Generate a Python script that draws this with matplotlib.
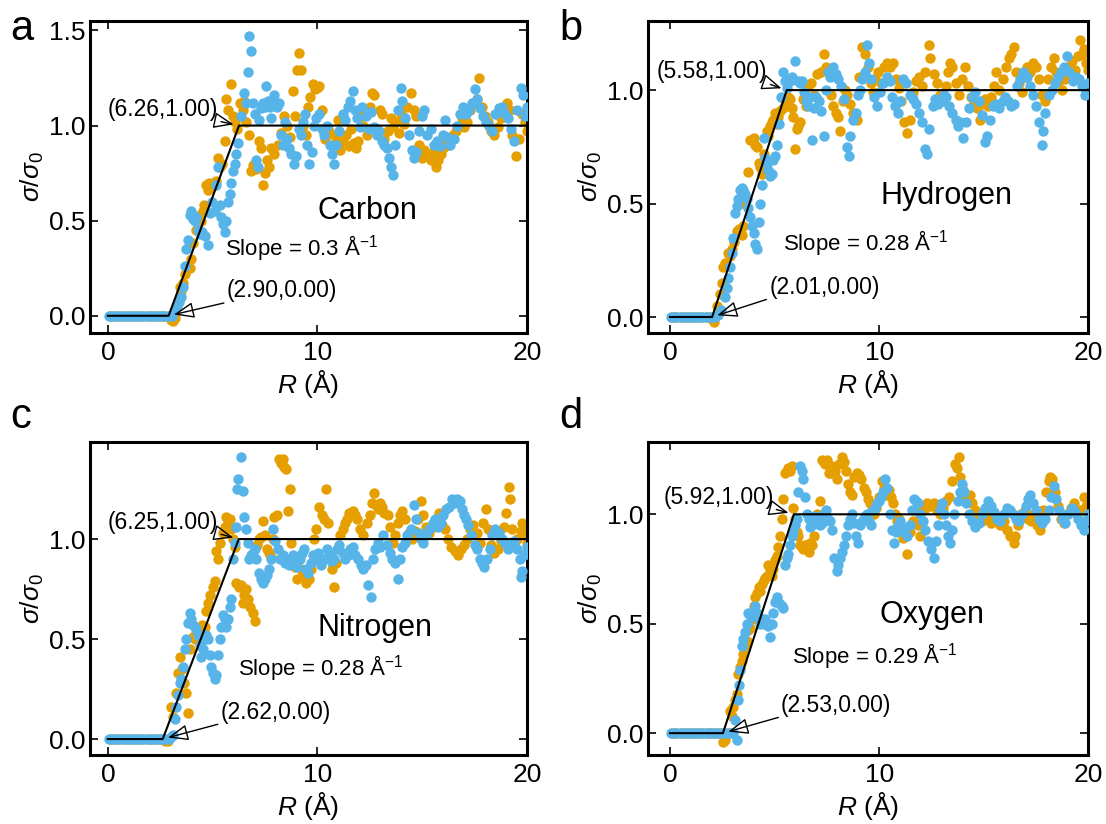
import numpy as np
import matplotlib
matplotlib.use('Agg')
import matplotlib.pyplot as plt

plt.rcParams['font.family'] = ['Liberation Sans', 'DejaVu Sans']
plt.rcParams['mathtext.fontset'] = 'custom'
plt.rcParams['mathtext.rm'] = 'Liberation Sans'
plt.rcParams['mathtext.it'] = 'Liberation Sans:italic'
plt.rcParams['mathtext.bf'] = 'Liberation Sans:bold'

naranja = '#E69F00'
azul = '#56B4E9'

# puntos (R, sigma/sigma0) de cada elemento, dos conjuntos por panel
carbon_naranja = [
    (0.1, 0), (0.3, 0), (0.5, 0), (0.7, 0), (0.9, 0), (1.1, 0), (1.3, 0), (1.5, 0), (1.7, 0), (1.9, 0),
    (2.1, 0), (2.3, 0), (2.5, 0), (2.7, 0), (2.9, 0), (3.0, -0.02), (3.1, -0.03), (3.2, -0.01),
    (3.35, 0.08), (3.43, 0.15), (3.5, 0.13), (3.59, 0.17), (3.7, 0.22), (3.8, 0.26), (3.9, 0.25), (3.95, 0.3),
    (4.05, 0.38), (4.2, 0.45), (4.38, 0.53), (4.45, 0.5), (4.54, 0.55), (4.6, 0.58), (4.7, 0.69), (4.78, 0.66),
    (4.85, 0.7), (5.0, 0.68), (5.17, 0.71), (5.25, 0.83), (5.35, 0.78), (5.45, 0.8), (5.57, 0.92), (5.65, 1.14),
    (5.75, 1.08), (5.9, 1.22), (5.95, 1.05), (6.05, 1.02), (6.15, 0.98), (6.3, 1.12), (6.44, 1.08), (6.52, 1.13),
    (6.6, 1.02), (6.76, 0.95), (6.84, 0.76), (6.95, 0.79), (7.08, 0.77), (7.2, 0.92), (7.3, 0.88), (7.4, 0.69),
    (7.48, 0.75), (7.6, 0.82), (7.71, 0.78), (7.8, 0.88), (7.95, 0.85), (8.1, 0.9), (8.25, 0.96), (8.4, 1.05),
    (8.55, 1.0), (8.7, 0.94), (8.83, 1.18), (8.95, 1.05), (9.05, 1.29), (9.14, 1.38), (9.22, 1.29), (9.3, 1.0),
    (9.45, 0.95), (9.55, 1.1), (9.65, 1.15), (9.78, 1.22), (9.9, 1.19), (10.0, 1.2), (10.1, 1.21), (10.2, 1.08),
    (10.35, 0.93), (10.5, 0.98), (10.6, 0.96), (10.75, 0.9), (10.9, 0.94), (11.0, 1.03), (11.1, 0.87), (11.2, 0.92),
    (11.35, 0.95), (11.5, 0.89), (11.6, 0.98), (11.75, 0.91), (11.84, 0.88), (11.95, 0.92), (12.1, 1.05), (12.2, 1.0),
    (12.35, 0.95), (12.5, 1.1), (12.6, 1.17), (12.7, 1.16), (12.85, 0.98), (13.0, 1.08), (13.1, 1.06), (13.2, 0.93),
    (13.35, 0.97), (13.5, 1.04), (13.6, 0.99), (13.75, 1.02), (13.9, 0.96), (14.0, 1.06), (14.15, 1.01), (14.3, 1.1),
    (14.46, 1.17), (14.6, 1.08), (14.7, 1.05), (14.85, 0.9), (15.0, 0.83), (15.1, 0.87), (15.25, 0.85), (15.4, 0.82),
    (15.5, 0.86), (15.65, 0.78), (15.75, 0.82), (15.9, 0.85), (16.0, 0.88), (16.15, 0.92), (16.3, 0.9), (16.45, 0.95),
    (16.6, 0.97), (16.75, 1.0), (16.9, 1.04), (17.0, 0.99), (17.15, 1.02), (17.3, 1.08), (17.45, 1.12), (17.6, 1.14),
    (17.7, 1.25), (17.85, 1.1), (18.0, 1.05), (18.15, 1.02), (18.3, 0.97), (18.45, 0.95), (18.6, 0.99), (18.75, 1.04),
    (18.9, 1.06), (19.05, 1.12), (19.2, 1.08), (19.3, 0.95), (19.46, 0.84), (19.6, 0.93), (19.75, 1.06), (19.9, 1.02),
    (20.0, 0.97)]
carbon_azul = [
    (0.05, 0), (0.2, 0), (0.35, 0), (0.5, 0), (0.65, 0), (0.8, 0), (0.95, 0), (1.1, 0), (1.25, 0), (1.4, 0),
    (1.55, 0), (1.7, 0), (1.85, 0), (2.0, 0), (2.15, 0), (2.3, 0), (2.45, 0), (2.6, 0), (2.75, 0), (2.9, 0),
    (3.05, 0), (3.2, 0.03), (3.3, 0.05), (3.4, 0.07), (3.51, 0.1), (3.6, 0.15), (3.67, 0.26), (3.75, 0.35),
    (3.83, 0.4), (3.9, 0.53), (3.97, 0.55), (4.05, 0.51), (4.15, 0.5), (4.22, 0.52), (4.3, 0.45), (4.38, 0.43),
    (4.5, 0.44), (4.62, 0.42), (4.78, 0.37), (4.86, 0.54), (4.95, 0.6), (5.1, 0.55), (5.17, 0.69), (5.25, 0.78),
    (5.33, 0.58), (5.41, 0.52), (5.49, 0.48), (5.57, 0.44), (5.65, 0.5), (5.75, 0.6), (5.81, 0.64), (5.89, 0.7),
    (5.97, 0.76), (6.05, 0.8), (6.13, 0.85), (6.21, 0.91), (6.37, 1.05), (6.52, 1.17), (6.6, 1.12), (6.68, 1.28),
    (6.76, 1.47), (6.84, 1.39), (6.92, 1.12), (7.0, 1.06), (7.08, 0.82), (7.15, 0.78), (7.22, 1.03), (7.3, 1.09),
    (7.4, 1.12), (7.48, 1.1), (7.56, 1.21), (7.63, 1.13), (7.72, 1.1), (7.8, 1.04), (7.88, 1.14), (7.95, 1.16),
    (8.05, 1.1), (8.15, 1.12), (8.25, 0.95), (8.35, 0.9), (8.45, 1.02), (8.55, 0.93), (8.65, 0.88), (8.75, 0.85),
    (8.9, 0.8), (9.0, 0.84), (9.1, 0.98), (9.2, 0.95), (9.3, 1.02), (9.4, 1.06), (9.5, 0.9), (9.62, 0.8),
    (9.72, 0.86), (9.85, 1.0), (9.95, 1.04), (10.1, 1.06), (10.2, 0.98), (10.3, 0.95), (10.45, 1.0), (10.6, 0.9),
    (10.7, 0.85), (10.8, 0.8), (10.9, 0.9), (11.05, 0.97), (11.2, 1.06), (11.3, 1.03), (11.45, 1.1), (11.55, 1.13),
    (11.68, 1.18), (11.8, 1.08), (11.9, 1.04), (12.05, 0.99), (12.15, 1.1), (12.3, 1.05), (12.45, 0.98), (12.55, 1.07),
    (12.7, 0.99), (12.85, 0.95), (12.95, 0.97), (13.1, 0.92), (13.2, 0.9), (13.3, 0.88), (13.43, 0.83), (13.5, 0.78),
    (13.6, 0.74), (13.72, 0.9), (13.85, 1.08), (13.98, 1.2), (14.05, 1.13), (14.2, 1.04), (14.35, 0.95), (14.5, 0.87),
    (14.6, 0.83), (14.7, 0.86), (14.85, 0.97), (15.0, 1.05), (15.1, 1.08), (15.25, 0.95), (15.4, 0.98), (15.55, 0.9),
    (15.7, 0.92), (15.85, 0.89), (16.0, 0.95), (16.1, 1.03), (16.2, 0.94), (16.35, 0.9), (16.5, 0.93), (16.65, 1.0),
    (16.8, 1.06), (16.95, 1.1), (17.1, 1.06), (17.25, 1.08), (17.4, 1.12), (17.5, 1.19), (17.6, 1.14), (17.75, 1.09),
    (17.9, 1.05), (18.05, 1.02), (18.2, 1.0), (18.35, 0.97), (18.5, 1.06), (18.65, 1.09), (18.8, 1.1), (18.95, 1.06),
    (19.1, 1.04), (19.25, 0.98), (19.4, 0.92), (19.55, 1.08), (19.7, 1.2), (19.8, 1.16), (19.9, 1.05), (20.0, 1.1)]

hidrogeno_naranja = [
    (0.1, 0), (0.3, 0), (0.5, 0), (0.7, 0), (0.9, 0), (1.1, 0), (1.3, 0), (1.5, 0), (1.7, 0), (1.9, 0),
    (2.0, -0.01), (2.1, -0.02), (2.25, 0.05), (2.39, 0.1), (2.47, 0.15), (2.55, 0.22), (2.65, 0.24), (2.79, 0.28),
    (2.87, 0.27), (2.95, 0.3), (3.05, 0.33), (3.19, 0.38), (3.3, 0.39), (3.42, 0.36), (3.51, 0.4), (3.6, 0.5),
    (3.75, 0.64), (3.83, 0.78), (3.99, 0.79), (4.07, 0.76), (4.15, 0.75), (4.23, 0.68), (4.3, 0.66), (4.39, 0.63),
    (4.5, 0.72), (4.63, 0.82), (4.7, 0.8), (4.78, 0.84), (4.86, 0.86), (4.94, 0.87), (5.02, 0.9), (5.1, 0.85),
    (5.18, 0.88), (5.26, 0.91), (5.4, 0.92), (5.5, 0.95), (5.66, 0.97), (5.74, 0.96), (5.82, 0.92), (5.9, 0.88),
    (5.98, 0.74), (6.06, 0.83), (6.14, 0.84), (6.22, 0.86), (6.35, 0.96), (6.5, 0.93), (6.6, 1.02), (6.75, 1.03),
    (6.9, 0.98), (7.05, 1.07), (7.2, 1.08), (7.34, 1.16), (7.45, 1.1), (7.55, 1.09), (7.7, 0.98), (7.8, 0.93),
    (7.95, 0.9), (8.05, 0.88), (8.13, 0.82), (8.25, 0.95), (8.35, 1.0), (8.45, 0.98), (8.6, 0.94), (8.75, 0.9),
    (8.93, 0.87), (9.05, 1.06), (9.17, 1.19), (9.3, 1.16), (9.45, 1.1), (9.6, 1.03), (9.7, 0.99), (9.8, 1.05),
    (9.95, 1.08), (10.1, 1.03), (10.25, 1.1), (10.37, 1.12), (10.5, 1.1), (10.65, 1.12), (10.8, 1.05), (10.95, 1.01),
    (11.05, 0.95), (11.2, 0.86), (11.32, 0.81), (11.45, 0.87), (11.6, 0.99), (11.75, 1.04), (11.9, 1.06), (12.05, 1.02),
    (12.2, 1.08), (12.36, 1.2), (12.45, 1.14), (12.6, 1.07), (12.75, 1.03), (12.9, 0.98), (13.05, 0.95), (13.2, 1.02),
    (13.3, 1.08), (13.4, 1.12), (13.5, 1.1), (13.65, 1.03), (13.8, 0.98), (13.95, 1.05), (14.1, 1.1), (14.25, 1.02),
    (14.4, 0.97), (14.55, 0.95), (14.7, 0.92), (14.83, 0.87), (14.95, 0.94), (15.05, 0.96), (15.2, 0.93), (15.35, 0.97),
    (15.5, 1.02), (15.6, 1.08), (15.75, 1.0), (15.9, 1.05), (16.05, 1.1), (16.19, 1.14), (16.3, 1.16), (16.43, 1.19),
    (16.55, 1.08), (16.7, 1.03), (16.85, 0.99), (17.0, 1.06), (17.07, 1.1), (17.2, 1.08), (17.35, 1.12), (17.5, 1.1),
    (17.65, 1.05), (17.8, 0.98), (17.94, 0.95), (18.05, 1.05), (18.2, 1.1), (18.34, 1.14), (18.45, 1.08), (18.6, 1.04),
    (18.75, 1.0), (18.9, 1.05), (19.05, 1.1), (19.2, 1.13), (19.35, 1.09), (19.5, 1.15), (19.62, 1.22), (19.7, 1.16),
    (19.78, 1.18), (19.9, 1.12), (20.0, 1.09)]
hidrogeno_azul = [
    (0.05, 0), (0.2, 0), (0.35, 0), (0.5, 0), (0.65, 0), (0.8, 0), (0.95, 0), (1.1, 0), (1.25, 0), (1.4, 0),
    (1.55, 0), (1.7, 0), (1.85, 0), (2.0, 0), (2.15, 0), (2.31, 0.01), (2.45, 0.03), (2.63, 0.09), (2.71, 0.13),
    (2.79, 0.17), (2.87, 0.22), (2.95, 0.28), (3.03, 0.35), (3.11, 0.46), (3.19, 0.49), (3.27, 0.52), (3.35, 0.56),
    (3.43, 0.57), (3.51, 0.56), (3.59, 0.54), (3.67, 0.52), (3.75, 0.48), (3.83, 0.44), (3.91, 0.4), (3.99, 0.37),
    (4.07, 0.32), (4.15, 0.3), (4.23, 0.42), (4.3, 0.5), (4.39, 0.58), (4.47, 0.79), (4.55, 0.7), (4.63, 0.68),
    (4.7, 0.65), (4.78, 0.62), (4.86, 0.63), (4.94, 0.69), (5.02, 0.71), (5.1, 0.76), (5.2, 0.85), (5.3, 0.97),
    (5.42, 1.08), (5.5, 1.04), (5.58, 1.01), (5.66, 1.05), (5.74, 1.04), (5.85, 1.06), (5.98, 1.13), (6.1, 1.04),
    (6.2, 1.03), (6.3, 1.04), (6.4, 0.99), (6.5, 0.95), (6.6, 0.93), (6.7, 0.97), (6.78, 0.78), (6.9, 0.92),
    (7.0, 0.97), (7.1, 0.95), (7.2, 0.91), (7.34, 0.8), (7.45, 1.0), (7.55, 1.08), (7.65, 1.06), (7.81, 1.1),
    (7.95, 1.07), (8.05, 1.05), (8.15, 1.02), (8.3, 0.96), (8.45, 0.75), (8.55, 0.71), (8.6, 0.8), (8.75, 0.87),
    (8.9, 0.9), (9.0, 0.98), (9.1, 1.0), (9.2, 1.05), (9.3, 1.08), (9.41, 1.2), (9.5, 1.12), (9.6, 1.05),
    (9.75, 0.97), (9.9, 0.93), (10.05, 0.99), (10.2, 1.03), (10.35, 1.06), (10.5, 1.04), (10.6, 0.97), (10.75, 0.93),
    (10.9, 0.9), (11.0, 0.95), (11.15, 1.05), (11.3, 1.03), (11.45, 0.98), (11.6, 0.96), (11.75, 0.94), (11.9, 0.9),
    (12.05, 0.86), (12.2, 0.74), (12.28, 0.72), (12.4, 0.83), (12.55, 0.93), (12.65, 0.96), (12.8, 0.94), (12.95, 0.95),
    (13.1, 0.98), (13.2, 0.97), (13.35, 0.93), (13.5, 0.9), (13.65, 0.87), (13.75, 0.84), (13.85, 0.86), (14.03, 0.79),
    (14.15, 0.86), (14.3, 0.92), (14.45, 0.97), (14.6, 0.99), (14.75, 0.95), (14.9, 0.89), (15.07, 0.77), (15.15, 0.8),
    (15.3, 0.87), (15.45, 0.93), (15.6, 0.94), (15.75, 0.92), (15.9, 0.95), (16.0, 0.97), (16.15, 0.95), (16.3, 0.93),
    (16.45, 0.94), (16.6, 1.02), (16.75, 1.05), (16.9, 1.08), (17.05, 1.06), (17.2, 1.02), (17.35, 0.98), (17.5, 0.93),
    (17.65, 0.86), (17.78, 0.76), (17.85, 0.82), (17.95, 0.9), (18.1, 0.98), (18.25, 1.0), (18.4, 1.03), (18.55, 1.06),
    (18.7, 1.08), (18.85, 1.1), (18.98, 1.15), (19.1, 1.08), (19.25, 1.04), (19.4, 1.06), (19.55, 1.05), (19.7, 1.02),
    (19.85, 0.98), (20.0, 1.03)]

nitrogeno_naranja = [
    (0.1, 0), (0.3, 0), (0.5, 0), (0.7, 0), (0.9, 0), (1.1, 0), (1.3, 0), (1.5, 0), (1.7, 0), (1.9, 0),
    (2.1, 0), (2.3, 0), (2.5, 0), (2.71, -0.01), (2.85, -0.01), (3.03, 0.16), (3.1, 0.11), (3.27, 0.23),
    (3.35, 0.33), (3.43, 0.41), (3.55, 0.35), (3.65, 0.28), (3.75, 0.23), (3.83, 0.13), (3.9, 0.45), (4.06, 0.51),
    (4.14, 0.5), (4.22, 0.53), (4.38, 0.55), (4.5, 0.57), (4.62, 0.56), (4.7, 0.64), (4.78, 0.68), (4.86, 0.72),
    (5.02, 0.76), (5.1, 0.79), (5.17, 0.94), (5.25, 0.9), (5.35, 0.98), (5.49, 1.03), (5.58, 1.06), (5.65, 1.11),
    (5.73, 1.08), (5.81, 1.1), (5.9, 1.05), (5.97, 1.0), (6.05, 0.96), (6.13, 0.78), (6.25, 0.76), (6.35, 0.77),
    (6.44, 0.68), (6.52, 0.72), (6.6, 0.75), (6.7, 0.7), (6.8, 0.66), (6.92, 0.63), (7.0, 0.59), (7.1, 0.97),
    (7.2, 1.0), (7.3, 1.01), (7.4, 1.09), (7.5, 1.02), (7.6, 0.95), (7.7, 0.93), (7.79, 0.91), (7.87, 1.0),
    (7.95, 1.11), (8.05, 1.12), (8.19, 1.4), (8.27, 1.38), (8.35, 1.4), (8.43, 1.36), (8.51, 1.35), (8.6, 1.14),
    (8.67, 1.25), (8.75, 0.98), (8.85, 0.9), (8.95, 0.86), (9.05, 0.8), (9.2, 0.85), (9.3, 0.82), (9.45, 0.78),
    (9.6, 0.8), (9.7, 0.85), (9.85, 1.0), (9.95, 1.05), (10.1, 1.16), (10.2, 1.12), (10.3, 1.1), (10.41, 1.25),
    (10.5, 1.08), (10.6, 0.92), (10.7, 0.85), (10.81, 0.76), (10.9, 0.88), (11.0, 0.95), (11.1, 1.02), (11.2, 1.05),
    (11.3, 1.08), (11.4, 1.1), (11.52, 1.13), (11.6, 1.12), (11.7, 1.14), (11.8, 1.12), (11.9, 1.1), (12.05, 1.05),
    (12.2, 1.02), (12.35, 1.08), (12.5, 1.12), (12.6, 1.18), (12.71, 1.23), (12.8, 1.17), (12.9, 1.15), (13.0, 1.18),
    (13.1, 1.16), (13.2, 1.13), (13.35, 1.12), (13.45, 1.06), (13.6, 0.98), (13.7, 1.02), (13.85, 1.08), (13.95, 1.12),
    (14.05, 1.14), (14.2, 1.1), (14.35, 1.03), (14.5, 1.0), (14.65, 1.04), (14.8, 1.1), (14.94, 1.19), (15.05, 1.12),
    (15.2, 1.06), (15.35, 1.03), (15.5, 1.06), (15.65, 1.1), (15.81, 1.13), (15.95, 1.07), (16.1, 1.05), (16.25, 1.0),
    (16.4, 0.96), (16.55, 0.94), (16.7, 0.92), (16.85, 0.95), (17.0, 0.97), (17.15, 1.0), (17.3, 1.05), (17.45, 1.07),
    (17.6, 1.03), (17.75, 0.98), (17.9, 1.08), (18.03, 1.15), (18.15, 1.05), (18.3, 0.97), (18.45, 0.93), (18.6, 0.95),
    (18.75, 0.99), (18.9, 1.06), (19.0, 1.13), (19.14, 1.26), (19.2, 1.2), (19.3, 1.05), (19.4, 0.98), (19.55, 1.0),
    (19.7, 1.04), (19.78, 1.08), (19.9, 1.02), (20.0, 0.98)]
nitrogeno_azul = [
    (0.05, 0), (0.2, 0), (0.35, 0), (0.5, 0), (0.65, 0), (0.8, 0), (0.95, 0), (1.1, 0), (1.25, 0), (1.4, 0),
    (1.55, 0), (1.7, 0), (1.85, 0), (2.0, 0), (2.15, 0), (2.3, 0), (2.45, 0), (2.6, 0), (2.75, 0), (2.9, 0),
    (3.0, 0.01), (3.1, 0.02), (3.19, 0.1), (3.27, 0.16), (3.35, 0.22), (3.43, 0.28), (3.5, 0.3), (3.6, 0.36),
    (3.68, 0.45), (3.75, 0.5), (3.83, 0.58), (3.9, 0.63), (3.98, 0.6), (4.06, 0.57), (4.14, 0.56), (4.22, 0.55),
    (4.3, 0.52), (4.38, 0.47), (4.46, 0.41), (4.54, 0.45), (4.62, 0.5), (4.7, 0.52), (4.78, 0.5), (4.86, 0.42),
    (4.94, 0.36), (5.02, 0.33), (5.1, 0.3), (5.18, 0.32), (5.25, 0.42), (5.33, 0.5), (5.41, 0.56), (5.49, 0.62),
    (5.57, 0.6), (5.65, 0.56), (5.73, 0.6), (5.81, 0.66), (5.89, 0.7), (5.97, 0.9), (6.05, 0.98), (6.13, 1.06),
    (6.17, 1.25), (6.21, 1.3), (6.37, 1.41), (6.44, 1.24), (6.52, 1.11), (6.6, 1.05), (6.68, 0.98), (6.76, 0.9),
    (6.84, 0.92), (6.92, 0.93), (7.0, 0.95), (7.08, 0.9), (7.2, 0.83), (7.3, 0.8), (7.4, 0.78), (7.5, 0.8),
    (7.6, 0.82), (7.7, 0.85), (7.8, 0.9), (7.9, 1.05), (8.0, 0.99), (8.1, 0.95), (8.2, 0.9), (8.35, 0.92),
    (8.45, 0.88), (8.55, 0.9), (8.65, 0.87), (8.75, 0.9), (8.85, 0.92), (8.95, 0.88), (9.05, 0.86), (9.15, 0.9),
    (9.25, 0.93), (9.35, 0.95), (9.45, 0.85), (9.55, 0.83), (9.7, 0.88), (9.8, 0.92), (9.95, 0.9), (10.05, 0.93),
    (10.15, 0.87), (10.3, 0.9), (10.45, 0.95), (10.55, 0.92), (10.65, 0.89), (10.8, 0.9), (10.95, 0.95), (11.05, 0.97),
    (11.2, 0.93), (11.3, 0.9), (11.45, 0.92), (11.55, 0.95), (11.7, 0.96), (11.8, 0.92), (11.95, 0.9), (12.1, 0.87),
    (12.2, 0.85), (12.3, 0.87), (12.4, 0.77), (12.56, 0.71), (12.65, 0.9), (12.75, 0.95), (12.9, 0.98), (13.0, 0.96),
    (13.15, 1.02), (13.3, 0.97), (13.45, 0.93), (13.55, 0.9), (13.7, 0.88), (13.83, 0.8), (13.95, 0.9), (14.05, 0.96),
    (14.2, 0.98), (14.3, 1.02), (14.45, 1.05), (14.62, 1.17), (14.7, 1.1), (14.85, 1.03), (14.95, 1.0), (15.05, 0.98),
    (15.2, 1.02), (15.35, 1.05), (15.5, 1.08), (15.6, 1.1), (15.75, 1.06), (15.9, 1.08), (16.0, 1.12), (16.15, 1.15),
    (16.3, 1.16), (16.44, 1.2), (16.55, 1.18), (16.68, 1.2), (16.8, 1.19), (16.9, 1.15), (17.0, 1.12), (17.1, 1.1),
    (17.2, 1.07), (17.35, 1.02), (17.5, 0.97), (17.6, 0.95), (17.75, 0.9), (17.85, 0.88), (17.95, 0.86), (18.1, 0.9),
    (18.25, 0.95), (18.35, 1.02), (18.5, 1.05), (18.65, 1.03), (18.8, 1.0), (18.95, 0.98), (19.1, 0.95), (19.25, 0.97),
    (19.4, 0.99), (19.55, 0.95), (19.65, 0.9), (19.7, 0.81), (19.78, 0.84), (19.88, 0.92), (20.0, 0.96)]

oxigeno_naranja = [
    (0.1, 0), (0.3, 0), (0.5, 0), (0.7, 0), (0.9, 0), (1.1, 0), (1.3, 0), (1.5, 0), (1.7, 0), (1.9, 0),
    (2.1, 0), (2.3, 0), (2.5, 0), (2.55, -0.04), (2.65, -0.03), (2.75, 0.0), (2.87, 0.1), (2.95, 0.08),
    (3.03, 0.12), (3.11, 0.15), (3.19, 0.18), (3.27, 0.27), (3.35, 0.3), (3.43, 0.33), (3.51, 0.36), (3.59, 0.4),
    (3.67, 0.42), (3.75, 0.47), (3.83, 0.48), (3.91, 0.52), (3.99, 0.58), (4.07, 0.62), (4.15, 0.64), (4.23, 0.67),
    (4.31, 0.65), (4.39, 0.68), (4.47, 0.7), (4.55, 0.71), (4.63, 0.72), (4.7, 0.77), (4.78, 0.75), (4.86, 0.72),
    (4.94, 0.75), (5.02, 0.79), (5.1, 0.81), (5.18, 0.85), (5.26, 0.9), (5.34, 0.98), (5.42, 1.07), (5.5, 1.19),
    (5.58, 1.2), (5.66, 1.21), (5.74, 1.2), (5.82, 1.22), (5.9, 1.03), (5.98, 0.98), (6.06, 0.92), (6.14, 0.9),
    (6.22, 0.86), (6.3, 0.85), (6.38, 0.84), (6.46, 0.86), (6.54, 0.85), (6.62, 0.83), (6.7, 0.87), (6.78, 0.86),
    (6.86, 0.9), (6.95, 0.96), (7.05, 1.0), (7.18, 1.06), (7.25, 1.25), (7.35, 1.24), (7.42, 1.23), (7.5, 1.25),
    (7.6, 1.19), (7.66, 1.19), (7.74, 1.22), (7.82, 1.19), (7.9, 1.2), (8.0, 1.16), (8.1, 1.23), (8.21, 1.26),
    (8.3, 1.24), (8.4, 1.2), (8.53, 1.14), (8.6, 1.1), (8.7, 1.09), (8.8, 1.17), (8.93, 1.19), (9.05, 1.18),
    (9.15, 1.16), (9.25, 1.12), (9.35, 1.1), (9.45, 1.07), (9.55, 1.05), (9.65, 1.02), (9.75, 1.0), (9.85, 1.03),
    (10.0, 1.08), (10.13, 1.15), (10.25, 1.12), (10.35, 1.09), (10.45, 1.11), (10.55, 1.08), (10.65, 1.05), (10.75, 1.0),
    (10.85, 0.97), (10.95, 0.98), (11.05, 0.93), (11.15, 0.89), (11.32, 0.82), (11.45, 0.92), (11.6, 0.97), (11.75, 1.02),
    (11.85, 0.95), (11.95, 0.9), (12.05, 0.96), (12.15, 1.02), (12.3, 1.05), (12.45, 1.04), (12.6, 1.05), (12.75, 1.02),
    (12.9, 1.0), (13.05, 1.03), (13.2, 1.06), (13.35, 1.08), (13.5, 1.15), (13.64, 1.23), (13.72, 1.21), (13.8, 1.26),
    (13.88, 1.17), (14.0, 1.11), (14.15, 1.08), (14.35, 1.09), (14.45, 1.05), (14.6, 1.02), (14.75, 0.99), (14.9, 0.97),
    (15.05, 1.02), (15.2, 0.98), (15.35, 0.96), (15.5, 1.0), (15.65, 0.98), (15.8, 0.95), (15.95, 0.97), (16.1, 0.93),
    (16.25, 0.9), (16.43, 0.87), (16.5, 0.9), (16.65, 0.95), (16.8, 1.0), (16.95, 1.02), (17.1, 0.98), (17.25, 0.97),
    (17.4, 1.0), (17.55, 0.95), (17.7, 0.93), (17.85, 1.02), (18.0, 1.1), (18.1, 1.15), (18.18, 1.17), (18.28, 1.16),
    (18.4, 1.1), (18.55, 1.04), (18.7, 0.98), (18.85, 0.96), (19.0, 1.0), (19.15, 1.03), (19.3, 1.05), (19.45, 1.0),
    (19.6, 1.02), (19.78, 1.08), (19.9, 1.04), (20.0, 1.0)]
oxigeno_azul = [
    (0.05, 0), (0.2, 0), (0.35, 0), (0.5, 0), (0.65, 0), (0.8, 0), (0.95, 0), (1.1, 0), (1.25, 0), (1.4, 0),
    (1.55, 0), (1.7, 0), (1.85, 0), (2.0, 0), (2.15, 0), (2.3, 0), (2.45, 0), (2.6, 0), (2.75, 0), (2.9, 0),
    (3.0, 0.0), (3.11, 0.06), (3.19, -0.03), (3.25, 0.15), (3.3, 0.22), (3.35, 0.29), (3.43, 0.4), (3.51, 0.43),
    (3.59, 0.46), (3.67, 0.5), (3.75, 0.55), (3.83, 0.54), (3.91, 0.53), (3.99, 0.56), (4.07, 0.58), (4.15, 0.55),
    (4.23, 0.53), (4.31, 0.5), (4.39, 0.52), (4.47, 0.5), (4.55, 0.52), (4.63, 0.5), (4.7, 0.49), (4.78, 0.44),
    (4.86, 0.5), (4.94, 0.55), (5.02, 0.6), (5.1, 0.62), (5.18, 0.6), (5.26, 0.59), (5.34, 0.58), (5.42, 0.57),
    (5.5, 0.77), (5.58, 0.8), (5.66, 0.82), (5.74, 0.86), (5.82, 0.9), (5.9, 0.92), (5.98, 0.95), (6.06, 0.98),
    (6.14, 1.1), (6.22, 1.22), (6.3, 1.2), (6.38, 1.16), (6.46, 1.08), (6.54, 1.0), (6.62, 0.98), (6.7, 0.94),
    (6.78, 0.95), (6.86, 0.96), (6.95, 0.99), (7.05, 0.97), (7.15, 0.95), (7.25, 0.96), (7.35, 1.0), (7.45, 1.02),
    (7.55, 0.98), (7.65, 0.97), (7.75, 0.93), (7.85, 0.8), (7.97, 0.74), (8.05, 0.77), (8.13, 0.8), (8.21, 0.83),
    (8.3, 0.86), (8.4, 0.9), (8.5, 0.95), (8.6, 0.98), (8.7, 1.0), (8.8, 0.96), (8.9, 0.9), (9.01, 0.87),
    (9.1, 0.95), (9.2, 0.97), (9.3, 0.99), (9.4, 1.0), (9.5, 0.97), (9.6, 0.95), (9.7, 1.02), (9.8, 1.03),
    (9.9, 1.05), (10.0, 1.06), (10.1, 1.08), (10.2, 1.1), (10.29, 1.16), (10.38, 1.12), (10.5, 1.0), (10.6, 0.93),
    (10.69, 0.87), (10.8, 0.92), (10.9, 0.95), (11.0, 0.97), (11.1, 0.94), (11.2, 0.92), (11.32, 0.9), (11.45, 0.95),
    (11.55, 1.02), (11.65, 1.07), (11.75, 1.06), (11.85, 1.05), (11.95, 1.0), (12.1, 0.97), (12.2, 0.93), (12.35, 0.88),
    (12.5, 0.84), (12.6, 0.8), (12.7, 0.88), (12.8, 0.95), (12.9, 1.02), (13.0, 1.05), (13.1, 1.0), (13.2, 0.95),
    (13.3, 0.9), (13.4, 0.87), (13.5, 0.93), (13.6, 1.0), (13.75, 1.06), (13.88, 1.1), (13.96, 1.14), (14.05, 1.1),
    (14.15, 1.05), (14.3, 1.0), (14.45, 0.97), (14.6, 0.94), (14.75, 0.96), (14.9, 1.0), (15.05, 1.03), (15.2, 1.06),
    (15.35, 1.04), (15.5, 1.01), (15.65, 0.98), (15.8, 0.97), (15.95, 1.0), (16.1, 1.03), (16.25, 1.02), (16.4, 1.0),
    (16.55, 0.98), (16.7, 0.97), (16.85, 1.0), (17.0, 1.04), (17.1, 1.07), (17.22, 1.09), (17.35, 1.05), (17.5, 1.02),
    (17.65, 0.98), (17.8, 0.96), (17.95, 0.98), (18.1, 1.02), (18.2, 1.08), (18.34, 1.13), (18.45, 1.07), (18.6, 1.02),
    (18.75, 0.98), (18.9, 0.96), (19.05, 1.0), (19.2, 1.03), (19.35, 1.01), (19.5, 0.98), (19.65, 0.95), (19.78, 0.93),
    (19.9, 0.97), (20.0, 1.0)]

# ajuste lineal por tramos: inicio (R0) y saturacion (R1) de cada elemento
elementos = ['Carbon', 'Hydrogen', 'Nitrogen', 'Oxygen']
letras = ['a', 'b', 'c', 'd']
inicio = [2.90, 2.01, 2.62, 2.53]
saturacion = [6.26, 5.58, 6.25, 5.92]
pendientes = ['0.3', '0.28', '0.28', '0.29']
datos = [(carbon_naranja, carbon_azul), (hidrogeno_naranja, hidrogeno_azul),
         (nitrogeno_naranja, nitrogeno_azul), (oxigeno_naranja, oxigeno_azul)]

# posicion de cada panel [izq, abajo, ancho, alto] y limites
posiciones = [[0.0814, 0.596, 0.395, 0.3786], [0.586, 0.596, 0.398, 0.3786],
              [0.0814, 0.0837, 0.395, 0.3798], [0.586, 0.0837, 0.398, 0.3798]]
limites_x = [(-0.85, 20), (-1.05, 20), (-0.85, 20), (-1.05, 20)]
limites_y = [(-0.09, 1.55), (-0.07, 1.305), (-0.08, 1.485), (-0.10, 1.33)]
ticks_y = [[0, 0.5, 1.0, 1.5], [0, 0.5, 1.0], [0, 0.5, 1.0], [0, 0.5, 1.0]]

# posiciones de los textos (en unidades de datos)
pos_nombre = [(10.0, 0.55), (10.05, 0.533), (10.0, 0.555), (10.0, 0.539)]
pos_pendiente = [(5.57, 0.356), (5.41, 0.326), (6.19, 0.355), (5.84, 0.352)]
pos_inicio = [(5.67, 0.131), (4.74, 0.132), (5.38, 0.135), (5.31, 0.128)]
pos_saturacion = [(0.0, 1.084), (-0.62, 1.08), (0.0, 1.085), (-0.33, 1.078)]
pos_letra = [(0.009, 0.9515), (0.506, 0.9515), (0.009, 0.48), (0.506, 0.48)]

fig = plt.figure(figsize=(11.06, 8.24), dpi=100)

for i in range(4):
    ax = fig.add_axes(posiciones[i])
    naranja_pts = np.array(datos[i][0])
    azul_pts = np.array(datos[i][1])
    ax.scatter(naranja_pts[:, 0], naranja_pts[:, 1], s=56, color=naranja, linewidths=0, zorder=2)
    ax.scatter(azul_pts[:, 0], azul_pts[:, 1], s=56, color=azul, linewidths=0, zorder=3)

    x0 = inicio[i]
    x1 = saturacion[i]
    ax.plot([0, x0, x1, 20], [0, 0, 1, 1], color='black', lw=1.5, zorder=4)

    flecha = dict(arrowstyle='-|>,head_length=0.75,head_width=0.3', fc='none', ec='black',
                  lw=1.0, shrinkA=0, shrinkB=4)
    ax.annotate('(%.2f,0.00)' % x0, xy=(x0, 0), xytext=pos_inicio[i], fontsize=16.5,
                ha='left', va='center', zorder=5, arrowprops=dict(flecha, relpos=(0, 0)))
    ax.annotate('(%.2f,1.00)' % x1, xy=(x1, 1), xytext=pos_saturacion[i], fontsize=16.5,
                ha='left', va='center', zorder=5, arrowprops=dict(flecha, relpos=(1, 0)))

    ax.text(pos_nombre[i][0], pos_nombre[i][1], elementos[i], fontsize=22, ha='left', va='center')
    ax.text(pos_pendiente[i][0], pos_pendiente[i][1], 'Slope = %s Å$^{-1}$' % pendientes[i],
            fontsize=16, ha='left', va='center')

    ax.set_xlim(limites_x[i])
    ax.set_ylim(limites_y[i])
    ax.set_xticks([0, 10, 20])
    ax.set_yticks(ticks_y[i])
    ax.set_yticklabels(['%.1f' % t for t in ticks_y[i]])
    ax.tick_params(direction='in', top=True, right=True, length=6, width=1.2, labelsize=19)
    ax.tick_params(axis='x', pad=6)
    for lado in ax.spines.values():
        lado.set_linewidth(2.2)
    ax.set_xlabel('$R$ (Å)', fontsize=19, labelpad=2)
    ax.set_ylabel(r'$\sigma/\sigma_{\mathit{0}}$', fontsize=19, labelpad=2)

    fig.text(pos_letra[i][0], pos_letra[i][1], letras[i], fontsize=30, va='baseline', ha='left')

plt.savefig('out.png', dpi=100)
